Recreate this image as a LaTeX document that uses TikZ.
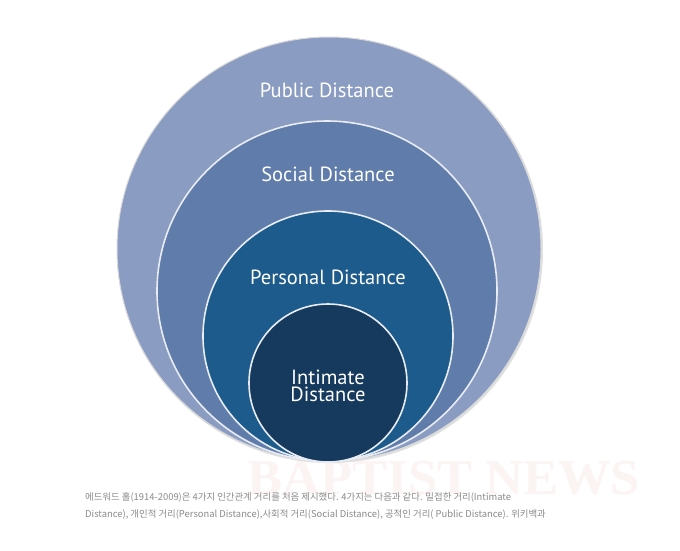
\documentclass[tikz,border=0pt]{standalone}
\usepackage{fontspec}
\newfontfamily\labelfont{PT Sans}
\newfontfamily\cjk{Noto Sans CJK KR}
\newfontfamily\markfont{Liberation Serif}
\definecolor{publicc}{HTML}{8A9CC2}
\definecolor{socialc}{HTML}{5F7CAA}
\definecolor{personalc}{HTML}{1D5B8D}
\definecolor{intimatec}{HTML}{153A5E}
\definecolor{ringc}{HTML}{E9EDF3}
\definecolor{capc}{HTML}{8A8A8A}
\definecolor{markc}{HTML}{FCF3F3}
\tikzset{
    zone/.style={draw=ringc,line width=1.6pt},
    zonetext/.style={text=white,font=\labelfont\fontsize{20.5}{17.5}\selectfont,align=center,inner sep=0pt},
    captext/.style={text=capc,font=\cjk\fontsize{9.4}{18}\selectfont,anchor=west,inner sep=0pt}
}
\begin{document}
\begin{tikzpicture}[x=1pt,y=-1pt]
    \useasboundingbox[fill=white](0,0)rectangle(680,550);
    % watermark
    \node[text=markc,font=\markfont\bfseries\fontsize{50}{50}\selectfont,xscale=1.05](mark)at(444,478){BAPTIST NEWS};
    % zones
    \fill[black!12](330,250)circle(213);
    \fill[publicc](329,249)circle(212);
    \draw[black!15,line width=1pt](329,249)circle(212);
    \fill[socialc,zone](327,291)circle(170);
    \fill[personalc,zone](328,336)circle(125);
    \fill[intimatec,zone](328,383)circle(79);
    \node[zonetext](public)at(327,90){Public Distance};
    \node[zonetext](social)at(328,174){Social Distance};
    \node[zonetext](personal)at(328,277){Personal Distance};
    \node[zonetext](intimate)at(328,386){Intimate\\Distance};
    % caption
    \node[captext](cap1)at(85,497){에드워드 홀(1914-2009)은 4가지 인간관계 거리를 처음 제시했다. 4가지는 다음과 같다. 밀접한 거리(Intimate};
    \node[captext](cap2)at(85,515){Distance), 개인적 거리(Personal Distance),사회적 거리(Social Distance), 공적인 거리( Public Distance). 위키백과};
\end{tikzpicture}
\end{document}
